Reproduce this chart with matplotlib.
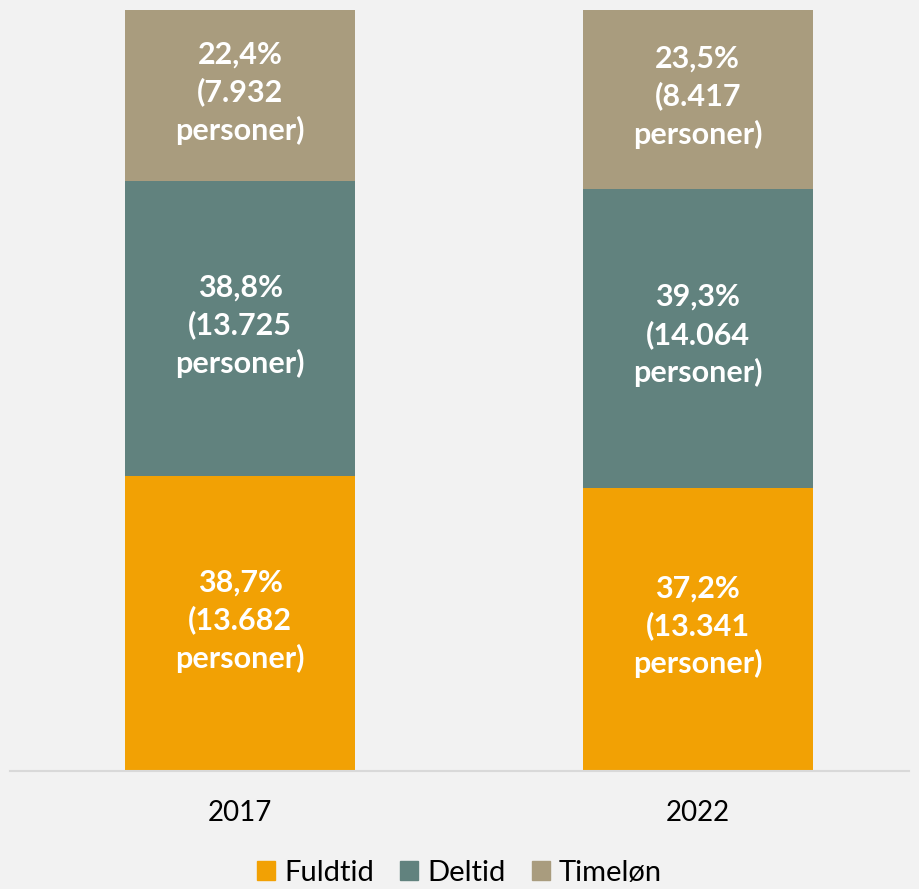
import numpy as np
import matplotlib
matplotlib.use("Agg")
import matplotlib.pyplot as plt
from matplotlib.patches import Patch

plt.rcParams['font.family'] = ['Lato', 'DejaVu Sans']

years = ['2017', '2022']
series = ['Fuldtid', 'Deltid', 'Timeløn']
counts = {
    'Fuldtid': [13682, 13341],
    'Deltid': [13725, 14064],
    'Timeløn': [7932, 8417],
}
pct_labels = {
    'Fuldtid': ['38,7%', '37,2%'],
    'Deltid': ['38,8%', '39,3%'],
    'Timeløn': ['22,4%', '23,5%'],
}
count_labels = {
    'Fuldtid': ['13.682', '13.341'],
    'Deltid': ['13.725', '14.064'],
    'Timeløn': ['7.932', '8.417'],
}
colors = {'Fuldtid': '#f2a104', 'Deltid': '#61827e', 'Timeløn': '#a99c7e'}

bg = '#f2f2f2'
fig = plt.figure(figsize=(9.19, 8.89), dpi=100, facecolor=bg)
ax = fig.add_axes([10 / 919, 1 - 771 / 889, 899 / 919, 761 / 889])
ax.set_facecolor(bg)

x = np.arange(len(years))
totals = np.sum([counts[s] for s in series], axis=0)
bottom = np.zeros(len(years))
for s in series:
    share = np.array(counts[s]) / totals
    ax.bar(x, share, 0.503, bottom=bottom, color=colors[s], label=s)
    for i in range(len(years)):
        ax.text(x[i], bottom[i] + share[i] / 2 + 0.004,
                pct_labels[s][i] + '\n(' + count_labels[s][i] + '\npersoner)',
                ha='center', va='center', color='white', fontsize=22,
                fontweight='bold', linespacing=1.38)
    bottom += share

ax.set_xlim(-0.503, 1.462)
ax.set_ylim(0, 1)
for side in ['top', 'right', 'left']:
    ax.spines[side].set_visible(False)
ax.spines['bottom'].set_color('#d9d9d9')
ax.spines['bottom'].set_linewidth(1.5)
ax.set_yticks([])
ax.set_xticks(x)
ax.set_xticklabels(years, fontsize=20)
ax.tick_params(axis='x', length=0, pad=21)

handles = [Patch(color=colors[s], label=s) for s in series]
fig.legend(handles=handles, loc='center', bbox_to_anchor=(0.5, 1 - 873 / 889),
           ncol=3, frameon=False, fontsize=21, handlelength=0.62, handleheight=0.62,
           handletextpad=0.3, columnspacing=0.9)

fig.savefig('out.png', dpi=100, facecolor=bg)
